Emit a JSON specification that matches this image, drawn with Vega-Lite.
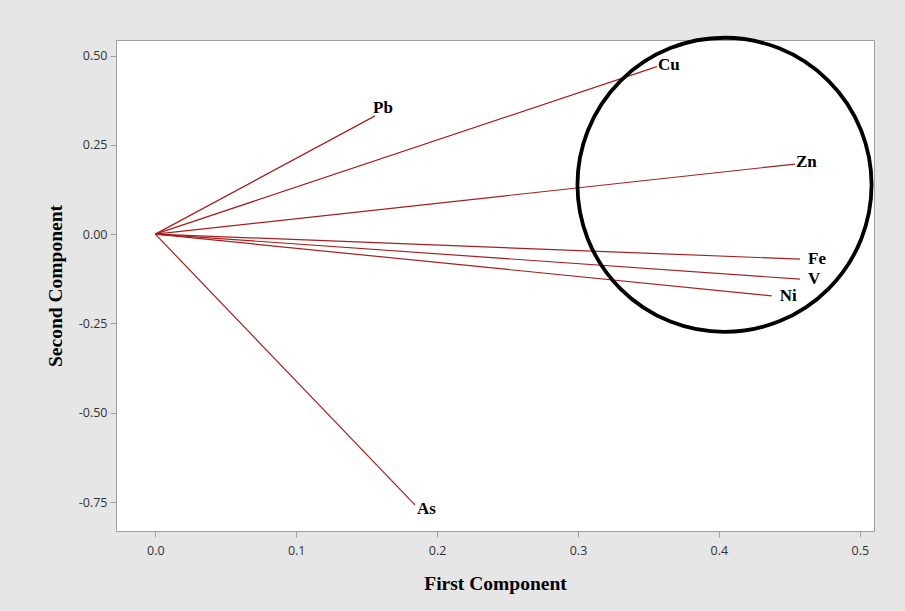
{
  "$schema": "https://vega.github.io/schema/vega-lite/v6.json",
  "width": 758,
  "height": 491,
  "autosize": "none",
  "padding": {"left": 116, "top": 40, "right": 31, "bottom": 80},
  "background": "#e6e6e6",
  "config": {
    "view": {"fill": "white", "stroke": "#a0a0a0", "strokeWidth": 1},
    "axis": {
      "domain": false,
      "grid": false,
      "tickColor": "#a0a0a0",
      "tickSize": 6,
      "labelFont": "Open Sans",
      "labelFontSize": 12.5,
      "labelColor": "#333333",
      "titleFont": "Liberation Serif",
      "titleFontSize": 19.5,
      "titleFontWeight": "bold",
      "titleColor": "#000000"
    }
  },
  "datasets": {
    "loadings": [
      {"element": "Pb", "pc1": 0.156, "pc2": 0.331},
      {"element": "Cu", "pc1": 0.356, "pc2": 0.469},
      {"element": "Zn", "pc1": 0.454, "pc2": 0.196},
      {"element": "Fe", "pc1": 0.4576, "pc2": -0.070},
      {"element": "V", "pc1": 0.4576, "pc2": -0.126},
      {"element": "Ni", "pc1": 0.4375, "pc2": -0.173},
      {"element": "As", "pc1": 0.1843, "pc2": -0.758}
    ],
    "highlight": [
      {"pc1": 0.404, "pc2": 0.138}
    ]
  },
  "layer": [
    {
      "data": {"name": "loadings"},
      "mark": {"type": "rule", "color": "#a61f1f", "strokeWidth": 1.2},
      "encoding": {
        "x": {"field": "pc1", "type": "quantitative",
          "scale": {"domain": [-0.0279, 0.5101], "nice": false, "zero": false},
          "axis": {"values": [0, 0.1, 0.2, 0.3, 0.4, 0.5], "format": ".1f", "labelPadding": 7, "titlePadding": 18},
          "title": "First Component"},
        "y": {"field": "pc2", "type": "quantitative",
          "scale": {"domain": [-0.831, 0.5434], "nice": false, "zero": false},
          "axis": {"values": [-0.75, -0.5, -0.25, 0, 0.25, 0.5],
            "labelExpr": "replace(format(datum.value, '.2f'), '−', '-')",
            "labelPadding": 3, "titlePadding": 13},
          "title": "Second Component"},
        "x2": {"datum": 0},
        "y2": {"datum": 0}
      }
    },
    {
      "data": {"name": "loadings"},
      "transform": [{"filter": "indexof(['Pb'], datum.element) >= 0"}],
      "mark": {"type": "text", "align": "left", "baseline": "middle", "dx": -2, "dy": -8,
        "font": "Liberation Serif", "fontWeight": "bold", "fontSize": 17, "color": "black"},
      "encoding": {
        "x": {"field": "pc1", "type": "quantitative"},
        "y": {"field": "pc2", "type": "quantitative"},
        "text": {"field": "element"}
      }
    },
    {
      "data": {"name": "loadings"},
      "transform": [{"filter": "indexof(['Cu', 'Zn'], datum.element) >= 0"}],
      "mark": {"type": "text", "align": "left", "baseline": "middle", "dx": 1, "dy": -2,
        "font": "Liberation Serif", "fontWeight": "bold", "fontSize": 17, "color": "black"},
      "encoding": {
        "x": {"field": "pc1", "type": "quantitative"},
        "y": {"field": "pc2", "type": "quantitative"},
        "text": {"field": "element"}
      }
    },
    {
      "data": {"name": "loadings"},
      "transform": [{"filter": "indexof(['Fe', 'V', 'Ni'], datum.element) >= 0"}],
      "mark": {"type": "text", "align": "left", "baseline": "middle", "dx": 8, "dy": 0,
        "font": "Liberation Serif", "fontWeight": "bold", "fontSize": 17, "color": "black"},
      "encoding": {
        "x": {"field": "pc1", "type": "quantitative"},
        "y": {"field": "pc2", "type": "quantitative"},
        "text": {"field": "element"}
      }
    },
    {
      "data": {"name": "loadings"},
      "transform": [{"filter": "indexof(['As'], datum.element) >= 0"}],
      "mark": {"type": "text", "align": "left", "baseline": "middle", "dx": 2, "dy": 4,
        "font": "Liberation Serif", "fontWeight": "bold", "fontSize": 17, "color": "black"},
      "encoding": {
        "x": {"field": "pc1", "type": "quantitative"},
        "y": {"field": "pc2", "type": "quantitative"},
        "text": {"field": "element"}
      }
    },
    {
      "data": {"name": "highlight"},
      "mark": {"type": "point", "shape": "circle", "filled": false, "stroke": "black",
        "strokeWidth": 3.8, "size": 86500, "opacity": 1},
      "encoding": {
        "x": {"field": "pc1", "type": "quantitative"},
        "y": {"field": "pc2", "type": "quantitative"}
      }
    }
  ]
}
